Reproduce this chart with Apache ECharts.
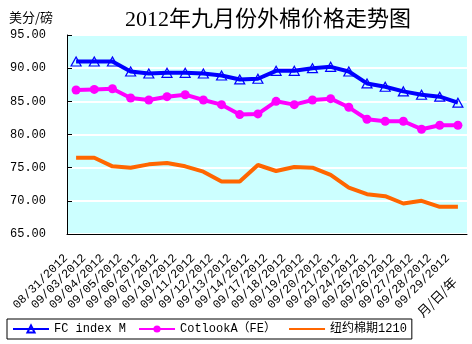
<!DOCTYPE html>
<html>
<head>
<meta charset="utf-8">
<script src="https://cdn.jsdelivr.net/npm/echarts@6/dist/echarts.min.js"></script>
<style>html,body{margin:0;padding:0;background:#fff;}#c{width:472px;height:344px;}</style>
</head>
<body>
<div id="c"></div>
<script>
var dates = ['08/31/2012','09/03/2012','09/04/2012','09/05/2012','09/06/2012','09/07/2012','09/10/2012','09/11/2012','09/12/2012','09/13/2012','09/14/2012','09/17/2012','09/18/2012','09/19/2012','09/20/2012','09/21/2012','09/24/2012','09/25/2012','09/26/2012','09/27/2012','09/28/2012','09/29/2012'];
var fcIndex = [91.0, 91.0, 91.0, 89.5, 89.2, 89.3, 89.3, 89.2, 88.9, 88.3, 88.4, 89.6, 89.6, 90.0, 90.2, 89.5, 87.7, 87.2, 86.5, 86.0, 85.7, 84.8];
var cotlook = [86.7, 86.8, 86.9, 85.5, 85.2, 85.7, 86.0, 85.2, 84.5, 83.0, 83.1, 85.0, 84.5, 85.2, 85.4, 84.1, 82.3, 82.0, 82.0, 80.8, 81.4, 81.4];
var nyFutures = [76.5, 76.5, 75.2, 75.0, 75.5, 75.7, 75.2, 74.4, 72.9, 72.9, 75.4, 74.5, 75.1, 75.0, 73.9, 72.0, 71.0, 70.7, 69.6, 70.0, 69.1, 69.1];
var seriesNames = ['FC index M', 'CotlookA（FE）', '纽约棉期1210'];
var yMin = 65, yMax = 95, yStep = 5;

var chart = echarts.init(document.getElementById('c'), null, {renderer: 'canvas'});
var mono = "'Liberation Mono', 'Noto Sans CJK SC', monospace";
chart.setOption({
  animation: false,
  backgroundColor: '#ffffff',
  title: [
    {text: '2012年九月份外棉价格走势图', left: 120, top: 4,
     textStyle: {fontSize: 22, fontWeight: 'normal', color: '#000', fontFamily: "'Liberation Serif', 'Noto Sans CJK SC', serif"}},
    {text: '美分/磅', left: 4, top: 6,
     textStyle: {fontSize: 13, fontWeight: 'normal', color: '#000', fontFamily: "'Noto Sans CJK SC', sans-serif"}}
  ],
  grid: {left: 67, right: 5, top: 35, bottom: 110, show: true, backgroundColor: '#ccffff', borderWidth: 0},
  legend: {
    left: 7, top: 319, padding: [4, 5, 4, 5],
    itemWidth: 36, itemHeight: 9, itemGap: 12,
    borderColor: '#000', borderWidth: 1,
    textStyle: {fontSize: 12, color: '#000', fontFamily: mono},
    data: [seriesNames[0], seriesNames[1], {name: seriesNames[2], itemStyle: {opacity: 0}}]
  },
  xAxis: {
    type: 'category', data: dates, boundaryGap: true,
    axisLine: {lineStyle: {color: '#000', width: 1}},
    axisTick: {inside: true, length: 5, interval: 0, lineStyle: {color: '#000'}},
    axisLabel: {interval: 0, rotate: 45, margin: 12, fontSize: 12, color: '#000', fontFamily: mono,
      formatter: function (v) { return v + '\u00a0\u00a0'; }},
    splitLine: {show: false}
  },
  yAxis: {
    type: 'value', min: yMin, max: yMax, interval: yStep,
    axisLine: {show: true, lineStyle: {color: '#000', width: 1}},
    axisTick: {show: true, inside: true, length: 5, lineStyle: {color: '#000'}},
    axisLabel: {margin: 21, fontSize: 12, color: '#000', fontFamily: mono, formatter: function (v) { return v.toFixed(2); }},
    splitLine: {show: true, lineStyle: {color: '#ffffff', width: 2}}
  },
  graphic: [
    {type: 'text', x: 437, y: 297, rotation: Math.PI / 4,
     style: {text: '月/日/年', font: "13px 'Noto Sans CJK SC', sans-serif", fill: '#000', align: 'center', verticalAlign: 'middle'}}
  ],
  series: [
    {name: seriesNames[0], type: 'line', data: fcIndex,
     symbol: 'triangle', symbolSize: [10, 9],
     lineStyle: {color: '#0000ff', width: 4},
     itemStyle: {color: 'rgba(0,0,0,0)', borderColor: '#0000ff', borderWidth: 1.2}},
    {name: seriesNames[1], type: 'line', data: cotlook,
     symbol: 'circle', symbolSize: 9,
     lineStyle: {color: '#ff00ff', width: 4},
     itemStyle: {color: '#ff00ff', borderColor: '#ff00ff', borderWidth: 0}},
    {name: seriesNames[2], type: 'line', data: nyFutures,
     symbol: 'none',
     lineStyle: {color: '#ff6600', width: 4},
     itemStyle: {color: '#ff6600'}}
  ]
});
</script>
</body>
</html>
